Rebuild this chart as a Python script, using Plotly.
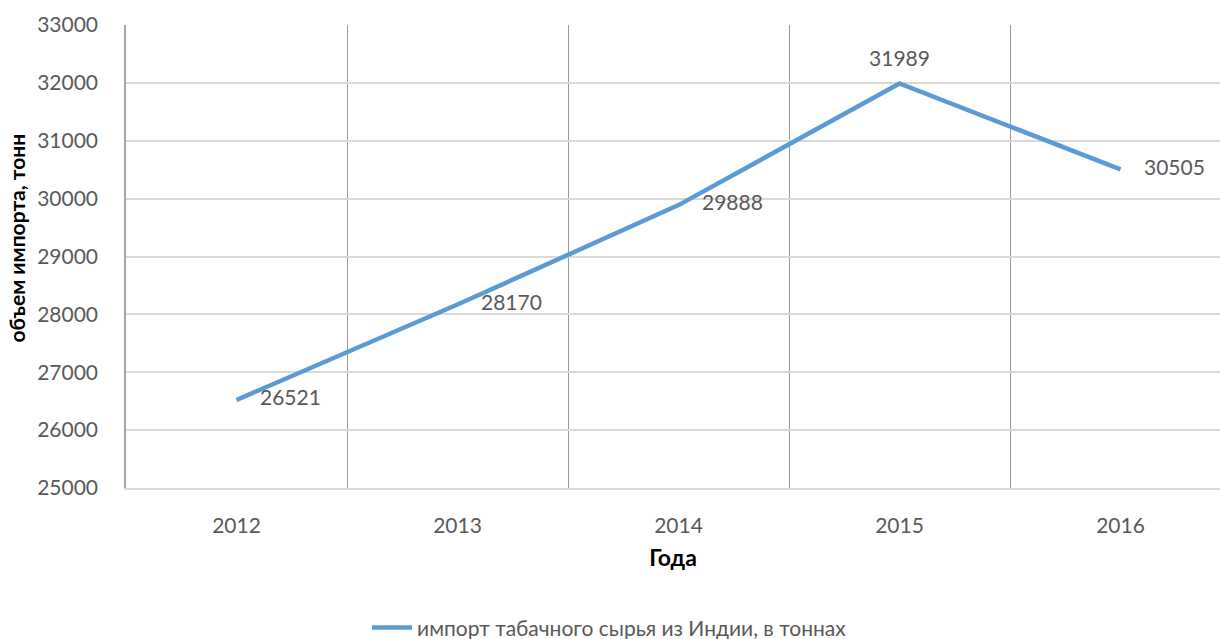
import plotly.graph_objects as go

years = ["2012", "2013", "2014", "2015", "2016"]
values = [26521, 28170, 29888, 31989, 30505]
label_positions = ["middle right", "middle right", "middle right", "top center", "middle right"]
series_name = "импорт табачного сырья из Индии, в тоннах"
y_title = "объем импорта, тонн"
x_title = "Года"

x_idx = list(range(len(years)))

FONT = "Lato, Calibri, 'Open Sans', sans-serif"
GREY = "#595959"
FS = 21
# invisible marker sizes used only to offset the data labels from the line
label_pad = [36 if p == "middle right" else 18 for p in label_positions]

fig = go.Figure()
fig.add_trace(go.Scatter(
    x=x_idx, y=values, name=series_name,
    mode="lines+markers+text",
    line=dict(color="#5B9BD5", width=4.5),
    marker=dict(size=label_pad, color="rgba(0,0,0,0)", line=dict(width=0, color="rgba(0,0,0,0)")),
    text=[str(v) for v in values],
    textposition=label_positions,
    textfont=dict(family=FONT, size=FS, color=GREY),
    cliponaxis=False,
    showlegend=True,
    hoverinfo="skip",
))

fig.update_layout(
    width=1220, height=639,
    margin=dict(l=126, r=0, t=25, b=151, autoexpand=False),
    paper_bgcolor="white", plot_bgcolor="white",
    font=dict(family=FONT, color=GREY, size=FS),
    showlegend=True,
    legend=dict(orientation="h", x=0.442, xanchor="center", y=-0.302, yanchor="middle",
                font=dict(family=FONT, size=FS, color=GREY), itemwidth=40),
    xaxis=dict(
        automargin=False,
        range=[-0.5, -0.5 + (1220 - 126) / 221.0],
        tickvals=x_idx, ticktext=years,
        showgrid=False, zeroline=False,
        showline=True, linecolor="#d9d9d9", linewidth=1.5,
        ticks="", ticklabelstandoff=18,
        tickfont=dict(family=FONT, size=FS, color=GREY),
        minor=dict(tick0=0.5, dtick=1, showgrid=True, gridcolor="#9a9a9a", gridwidth=1, ticks=""),
        title=dict(text=x_title, font=dict(family=FONT, size=23, color="black", weight="bold"), standoff=14),
    ),
    yaxis=dict(
        automargin=False,
        range=[25000, 33000], dtick=1000, tickformat="d",
        showgrid=True, gridcolor="#d9d9d9", gridwidth=1.5,
        zeroline=False,
        showline=True, linecolor="#a6a6a6", linewidth=1.5,
        ticks="", ticklabelstandoff=22,
        tickfont=dict(family=FONT, size=FS, color=GREY),
    ),
    annotations=[dict(
        text=y_title, textangle=-90, showarrow=False,
        xref="paper", yref="paper", x=-0.1, y=0.54,
        xanchor="center", yanchor="middle",
        font=dict(family=FONT, size=FS, color="black", weight="bold"),
    )],
)

fig.write_html(
    "out.html",
    config={"displayModeBar": False},
    post_script="document.body.style.margin='0px';document.body.style.overflow='hidden';",
)
